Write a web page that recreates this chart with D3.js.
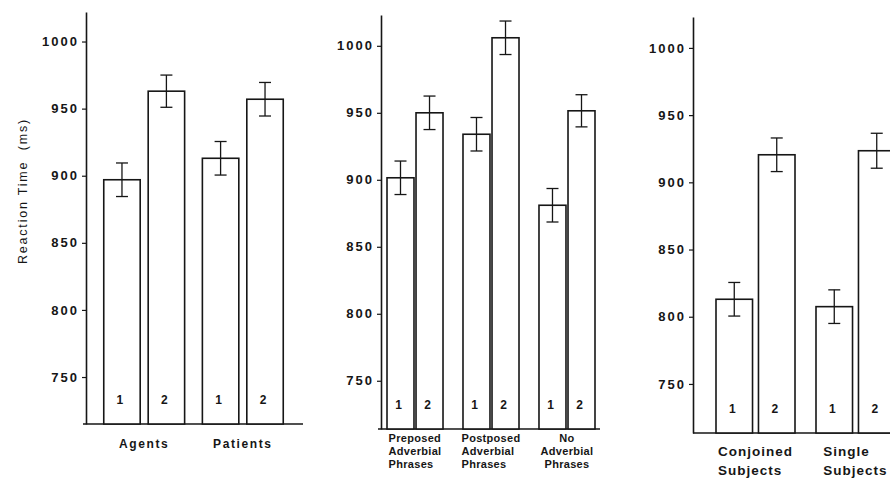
<!DOCTYPE html>
<html>
<head>
<meta charset="utf-8">
<script src="https://cdn.jsdelivr.net/npm/d3@7"></script>
<style>
  body { margin: 0; background: #fff; }
  svg { display: block; }
  text { font-family: "Liberation Sans", Arial, sans-serif; fill: #161616; }
</style>
</head>
<body>
<div id="chart"></div>
<script>
// Values (reaction time, ms)
const conditions = ["1", "2"];
const yTicks = [750, 800, 850, 900, 950, 1000];

// Panel 1 - agents / patients
const groups1 = [["Agents"], ["Patients"]];
const means1 = [[897, 963], [913, 957]];
const errors1 = [[12.5, 12], [12.5, 12.5]];

// Panel 2 - adverbial phrases
const groups2 = [["Preposed", "Adverbial", "Phrases"], ["Postposed", "Adverbial", "Phrases"], ["No", "Adverbial", "Phrases"]];
const means2 = [[901.5, 950], [934, 1006], [881, 951.5]];
const errors2 = [[12.5, 12.5], [12.5, 12.5], [12.5, 12]];

// Panel 3 - conjoined / single subjects
const groups3 = [["Conjoined", "Subjects"], ["Single", "Subjects"]];
const means3 = [[813, 920.5], [807.5, 923.5]];
const errors3 = [[12.5, 12.5], [12.5, 13]];

const ink = "#161616";
const width = 890, height = 482;

const svg = d3.select("#chart")
    .append("svg")
    .attr("width", width)
    .attr("height", height);

// Y axis title
svg.append("text")
    .attr("transform", "translate(27, 191) rotate(-90)")
    .attr("text-anchor", "middle")
    .style("font-size", "12.5px")
    .style("letter-spacing", "1.8px")
    .style("white-space", "pre")
    .text("Reaction Time  (ms)");

const panels = [
    { groups: groups1, means: means1, errors: errors1,
      axisX: 86, yRange: [424, 12], yDomain: [715, 1022], xRange: [86, 301],
      padIn: 0.18, padOut: 0.18, innerPad: 0.18, baseLine: [83, 303],
      labelY: 448, labelSize: 12, labelSpacing: 1.6, lineHeight: 14, align: ["middle", "middle"] },
    { groups: groups2, means: means2, errors: errors2,
      axisX: 381, yRange: [429, 15], yDomain: [714, 1023], xRange: [381, 601],
      padIn: 0.263, padOut: 0.079, innerPad: 0.07, baseLine: [378, 600],
      labelY: 442, labelSize: 11, labelSpacing: 0.3, lineHeight: 13, align: ["block", "block", "middle"] },
    { groups: groups3, means: means3, errors: errors3,
      axisX: 693, yRange: [433, 17], yDomain: [713.5, 1023], xRange: [693, 918],
      padIn: 0.21, padOut: 0.23, innerPad: 0.14, baseLine: [693, 890],
      labelY: 456, labelSize: 13.5, labelSpacing: 1, lineHeight: 19, align: ["block", "block"] }
];

panels.forEach(p => {
    const g = svg.append("g");

    const y = d3.scaleLinear().domain(p.yDomain).range(p.yRange);

    const x0 = d3.scaleBand()
        .domain(d3.range(p.groups.length))
        .range(p.xRange)
        .paddingInner(p.padIn)
        .paddingOuter(p.padOut);

    const x1 = d3.scaleBand()
        .domain(conditions)
        .range([0, x0.bandwidth()])
        .paddingInner(p.innerPad);

    // bottom baseline
    g.append("line")
        .attr("x1", p.baseLine[0]).attr("x2", p.baseLine[1])
        .attr("y1", p.yRange[0]).attr("y2", p.yRange[0])
        .attr("stroke", ink)
        .attr("stroke-width", 1.6);

    // y axis
    const axis = g.append("g")
        .attr("transform", `translate(${p.axisX},0)`)
        .call(d3.axisLeft(y).tickValues(yTicks).tickFormat(d3.format("d"))
            .tickSizeInner(4).tickSizeOuter(0).tickPadding(3));
    axis.select(".domain").attr("stroke", ink).attr("stroke-width", 1.6);
    axis.selectAll(".tick line").attr("stroke", ink).attr("stroke-width", 1.2);
    axis.selectAll(".tick text")
        .attr("fill", ink)
        .style("font-family", "Liberation Sans, Arial, sans-serif")
        .style("font-size", "13px")
        .style("font-weight", "bold")
        .style("letter-spacing", "2px");

    // bars
    const bars = [];
    p.groups.forEach((grp, gi) => {
        conditions.forEach((c, ci) => {
            bars.push({ gi, c, mean: p.means[gi][ci], err: p.errors[gi][ci] });
        });
    });

    const barG = g.selectAll(".bar")
        .data(bars)
        .enter()
        .append("g")
        .attr("class", "bar")
        .attr("transform", d => `translate(${x0(d.gi) + x1(d.c)},0)`);

    barG.append("rect")
        .attr("x", 0)
        .attr("y", d => y(d.mean))
        .attr("width", x1.bandwidth())
        .attr("height", d => p.yRange[0] - y(d.mean))
        .attr("fill", "#fff")
        .attr("stroke", ink)
        .attr("stroke-width", 1.6);

    // error bars
    const cx = x1.bandwidth() / 2;
    barG.append("line")
        .attr("x1", cx).attr("x2", cx)
        .attr("y1", d => y(d.mean + d.err))
        .attr("y2", d => y(d.mean - d.err))
        .attr("stroke", ink).attr("stroke-width", 1.3);
    barG.append("line")
        .attr("x1", cx - 6).attr("x2", cx + 6)
        .attr("y1", d => y(d.mean + d.err))
        .attr("y2", d => y(d.mean + d.err))
        .attr("stroke", ink).attr("stroke-width", 1.3);
    barG.append("line")
        .attr("x1", cx - 6).attr("x2", cx + 6)
        .attr("y1", d => y(d.mean - d.err))
        .attr("y2", d => y(d.mean - d.err))
        .attr("stroke", ink).attr("stroke-width", 1.3);

    // condition numbers
    barG.append("text")
        .attr("x", cx - 2)
        .attr("y", p.yRange[0] - 20)
        .attr("text-anchor", "middle")
        .style("font-size", "12px")
        .style("font-weight", "bold")
        .text(d => d.c);

    // group labels
    p.groups.forEach((lines, gi) => {
        const center = x0(gi) + x0.bandwidth() / 2;
        const lg = g.append("g");
        const texts = lines.map((line, li) => lg.append("text")
            .attr("x", center)
            .attr("y", p.labelY + li * p.lineHeight)
            .attr("text-anchor", p.align[gi] === "block" ? "start" : "middle")
            .style("font-size", p.labelSize + "px")
            .style("font-weight", "bold")
            .style("letter-spacing", p.labelSpacing + "px")
            .text(line));
        if (p.align[gi] === "block") {
            const w = d3.max(texts, t => t.node().getComputedTextLength());
            texts.forEach(t => t.attr("x", center - w / 2));
        }
    });
});
</script>
</body>
</html>
